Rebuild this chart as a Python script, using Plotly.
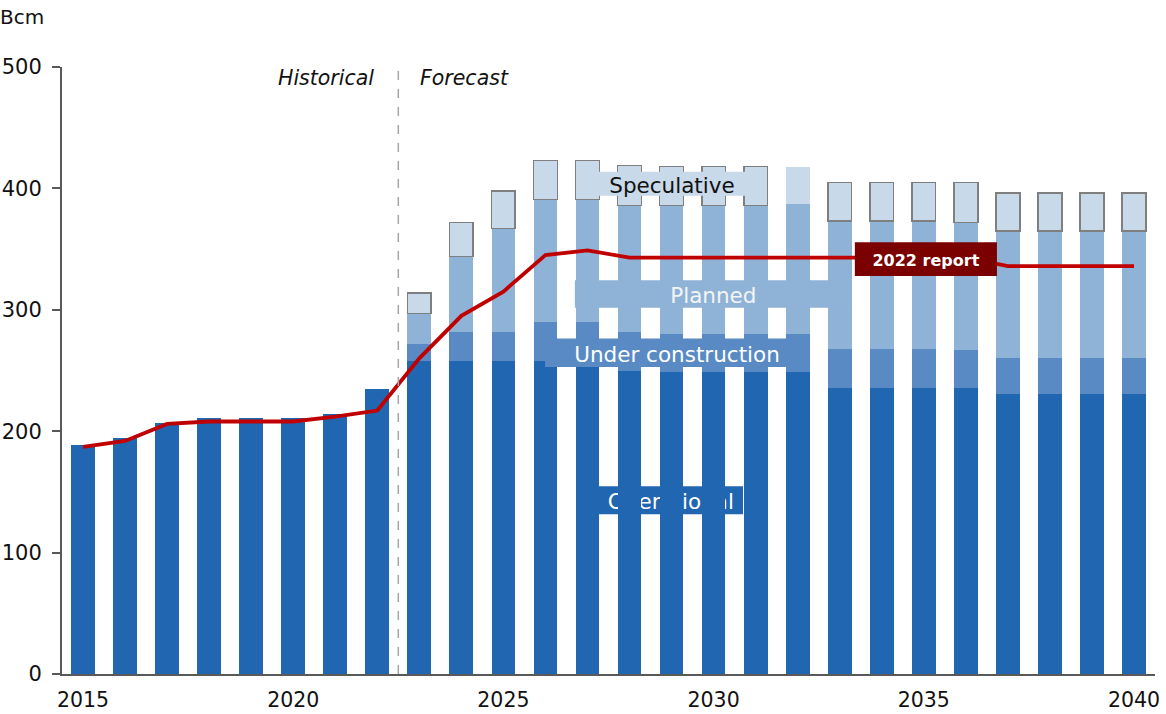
import plotly.graph_objects as go

# ---------------- data ----------------
years = list(range(2015, 2041))
operational = [189, 194, 207, 211, 211, 211, 214, 235,
               258, 258, 258, 258, 258, 250, 249, 249, 249, 249,
               236, 236, 236, 236, 231, 231, 231, 231]
under_construction = [None] * 8 + [14, 24, 24, 32, 32, 32, 31, 31, 31, 31,
                                   32, 32, 32, 31, 29, 29, 29, 29]
planned = [None] * 8 + [25, 62, 85, 101, 101, 104, 106, 106, 106, 107,
                        105, 105, 105, 105, 105, 105, 105, 105]
speculative = [None] * 8 + [17, 28, 31, 32, 32, 33, 32, 32, 32, 31,
                            32, 32, 32, 33, 31, 31, 31, 31]
spec_outline = [0] * 8 + [1.6] * 9 + [0] + [1.6] * 8   # 2032 box drawn without outline
report_2022 = [187, 192, 206, 208, 208, 208, 212, 217, 260, 295, 315, 345, 349,
               343, 343, 343, 343, 343, 343, 343, 343, 343, 336, 336, 336, 336]
x_ticks = [2015, 2020, 2025, 2030, 2035, 2040]
y_ticks = [0, 100, 200, 300, 400, 500]

C_OP = "#2166B1"
C_UC = "#5A8AC3"
C_PL = "#8FB2D7"
C_SP = "#C8D9EA"
C_LINE = "#C00000"
FONT = "DejaVu Sans"
BW = 0.565

fig = go.Figure()
fig.add_trace(go.Bar(x=years, y=operational, name="Operational", width=BW,
                     marker=dict(color=C_OP, line=dict(width=0))))
fig.add_trace(go.Bar(x=years, y=under_construction, name="Under construction", width=BW,
                     marker=dict(color=C_UC, line=dict(width=0))))
fig.add_trace(go.Bar(x=years, y=planned, name="Planned", width=BW,
                     marker=dict(color=C_PL, line=dict(width=0))))
fig.add_trace(go.Bar(x=years, y=speculative, name="Speculative", width=BW,
                     marker=dict(color=C_SP, line=dict(width=spec_outline, color="#7F7F7F"))))
fig.add_trace(go.Scatter(x=years, y=report_2022, mode="lines", name="2022 report",
                         line=dict(color=C_LINE, width=3.8)))


def label_box(x0, x1, y0, y1, text, fill, fcolor, layer="above", size=21.5, bold=False):
    fig.add_shape(type="rect", xref="x", yref="y", x0=x0, x1=x1, y0=y0, y1=y1,
                  fillcolor=fill, line=dict(width=0), layer=layer,
                  label=dict(text=f"<b>{text}</b>" if bold else text,
                             textposition="middle center",
                             font=dict(family=FONT, size=size, color=fcolor)))


label_box(2027.25, 2030.77, 393.9, 413.7, "Speculative", C_SP, "#111111")
label_box(2026.70, 2033.29, 301.6, 324.4, "Planned", C_PL, "#F4F4F4")
label_box(2025.99, 2032.27, 252.9, 276.3, "Under construction", C_UC, "#FFFFFF")
label_box(2027.27, 2030.70, 131.5, 154.6, "Operational", C_OP, "#FFFFFF", layer="below")
label_box(2033.36, 2036.74, 327.9, 355.7, "2022 report", "#7B0000", "#FFFFFF", size=16, bold=True)

# historical / forecast divider
fig.add_shape(type="line", xref="x", yref="y", x0=2022.5, x1=2022.5, y0=0, y1=500,
              line=dict(color="#A6A6A6", width=1.5, dash="dash"), layer="above")
fig.add_annotation(x=2022.5, y=491, xref="x", yref="y", text="<i>Historical</i>",
                   showarrow=False, xanchor="right", yanchor="middle", xshift=-22,
                   font=dict(family=FONT, size=20.5, color="#111111"))
fig.add_annotation(x=2022.5, y=491, xref="x", yref="y", text="<i>Forecast</i>",
                   showarrow=False, xanchor="left", yanchor="middle", xshift=20,
                   font=dict(family=FONT, size=20.5, color="#111111"))
fig.add_annotation(x=0, y=1.0824, xref="paper", yref="paper", text="Bcm",
                   showarrow=False, xanchor="left", yanchor="middle", xshift=-64,
                   font=dict(family=FONT, size=20, color="#111111"))

fig.update_layout(
    width=1166, height=714, autosize=False,
    margin=dict(l=62, r=11, t=67, b=40, autoexpand=False),
    barmode="stack", showlegend=False,
    plot_bgcolor="white", paper_bgcolor="white",
    font=dict(family=FONT, size=20, color="#111111"),
)
fig.update_xaxes(range=[2014.5, 2040.5], tickvals=x_ticks, ticks="", showgrid=False,
                 zeroline=False, showline=True, linecolor="#595959", linewidth=2,
                 automargin=False, ticklabelstandoff=6,
                 tickfont=dict(family=FONT, size=20.5, color="#111111"))
fig.update_yaxes(range=[0, 500], tickvals=y_ticks, ticks="outside", ticklen=8,
                 tickcolor="#595959", tickwidth=2, showgrid=False, zeroline=False,
                 showline=True, linecolor="#595959", linewidth=2, ticklabelstandoff=6,
                 automargin=False, tickfont=dict(family=FONT, size=21, color="#111111"))

fig.write_html("out.html", config={"displayModeBar": False},
               post_script="document.body.style.margin='0';document.body.style.overflow='hidden';")
